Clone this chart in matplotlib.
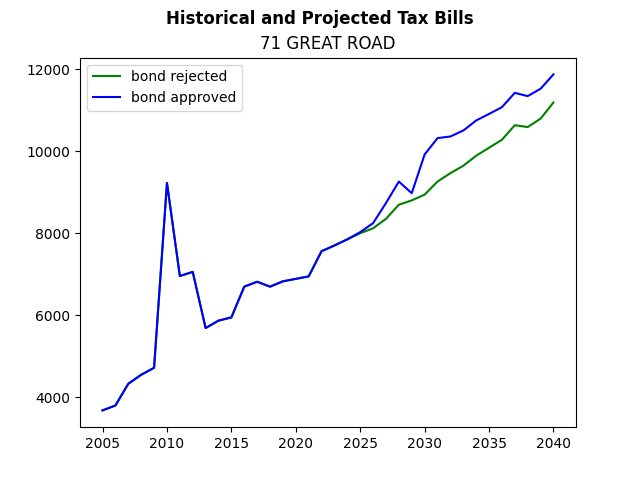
import matplotlib
matplotlib.use("Agg")
import matplotlib.pyplot as plt

years = list(range(2005, 2041))

# tax bill if the bond is rejected
bond_rejected = [
    3680, 3800, 4330, 4550, 4720, 9230, 6960, 7060, 5690, 5870,
    5950, 6700, 6820, 6700, 6830, 6890, 6950, 7565, 7705, 7855,
    8005, 8125, 8355, 8700, 8805, 8945, 9265, 9470, 9650, 9895,
    10090, 10285, 10640, 10595, 10800, 11195,
]

# tax bill if the bond is approved
bond_approved = [
    3680, 3800, 4330, 4550, 4720, 9230, 6960, 7060, 5690, 5870,
    5950, 6700, 6820, 6700, 6830, 6890, 6950, 7565, 7705, 7855,
    8030, 8250, 8740, 9265, 8980, 9925, 10325, 10365, 10510, 10755,
    10915, 11080, 11430, 11350, 11530, 11880,
]

fig, ax = plt.subplots(figsize=(6.4, 4.8), dpi=100)
ax.plot(years, bond_rejected, color="green", label="bond rejected")
ax.plot(years, bond_approved, color="blue", label="bond approved")

fig.suptitle("Historical and Projected Tax Bills", fontweight="bold")
ax.set_title("71 GREAT ROAD")
ax.legend(loc="upper left")

plt.savefig("out.png")
